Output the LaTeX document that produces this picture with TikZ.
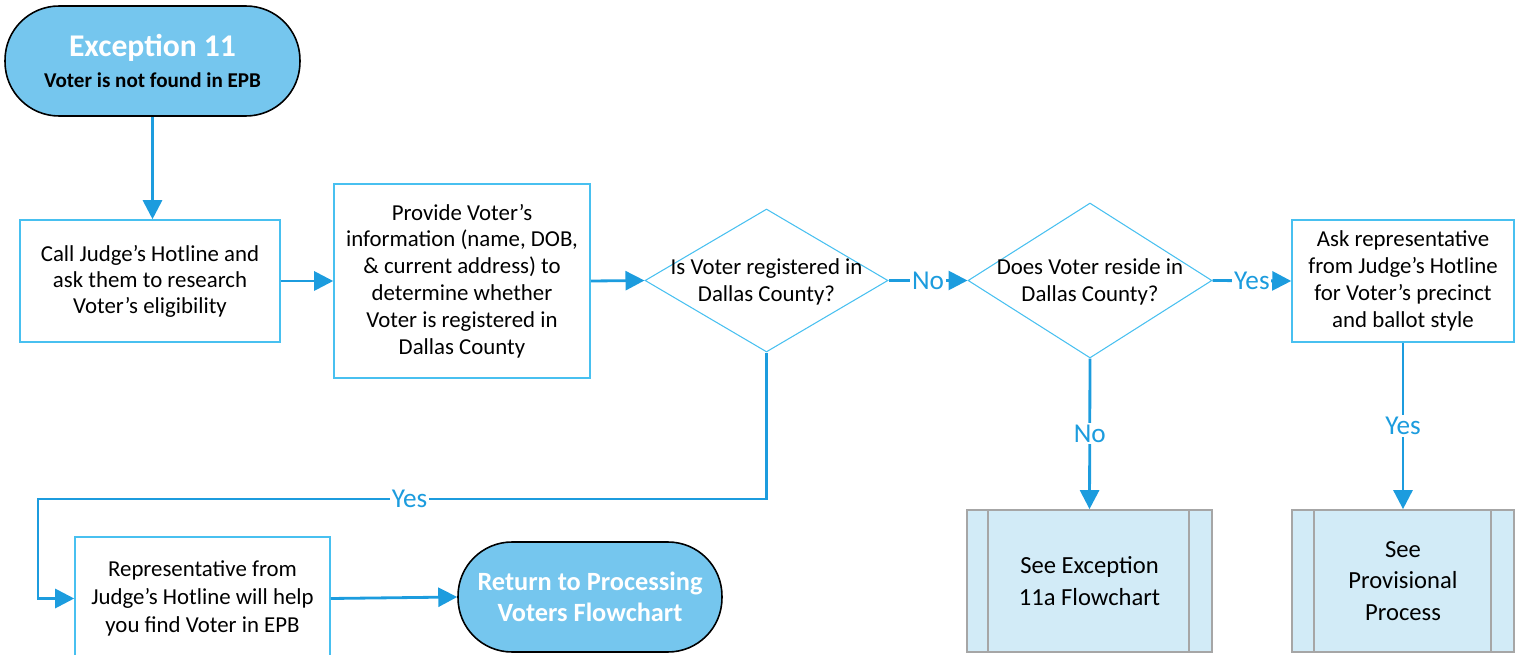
\documentclass[tikz,border=0pt]{standalone}
\usepackage{fontspec}
\setmainfont{Carlito}
\usetikzlibrary{arrows.meta,shapes.geometric}
\definecolor{conn}{RGB}{28,156,222}
\definecolor{bbord}{RGB}{72,192,240}
\definecolor{termfill}{RGB}{117,198,238}
\definecolor{ppfill}{RGB}{210,235,247}
\definecolor{ppbord}{RGB}{166,166,166}
\tikzset{
  procbox/.style={draw=bbord, line width=0.9pt, fill=white, align=center, inner sep=2pt, font=\fontsize{13}{14.8}\selectfont},
  termnode/.style={draw=black, line width=0.9pt, fill=termfill, rounded corners=1.08cm, align=center},
  decision/.style={diamond, draw=bbord, line width=0.6pt, inner sep=0pt},
  dtext/.style={align=center, font=\fontsize{13}{15.8}\selectfont},
  ppbox/.style={draw=ppbord, line width=1pt, fill=ppfill, align=center, font=\fontsize{14}{18}\selectfont},
  link/.style={draw=conn, line width=1.6pt, -{Triangle[length=0.38cm,width=0.38cm]}},
  lbl/.style={fill=white, text=conn, inner sep=1pt, font=\fontsize{15.5}{17}\selectfont}
}
\begin{document}
\begin{tikzpicture}[x=0.02cm,y=-0.02cm]
\useasboundingbox (0,0) rectangle (1522,655);
% nodes
\node[termnode, minimum width=5.9cm, minimum height=2.2cm, font=\fontsize{12}{18}\selectfont] (start) at (152.5,61)
  {{\fontsize{18}{21}\selectfont\bfseries\color{white}Exception 11}\\{\bfseries Voter is not found in EPB}};
\node[procbox, minimum width=5.2cm, minimum height=2.44cm] (b1) at (150,281)
  {Call Judge’s Hotline and\\ask them to research\\Voter’s eligibility};
\node[procbox, minimum width=5.12cm, minimum height=3.88cm, font=\fontsize{13}{15.3}\selectfont] (b2) at (462,281)
  {Provide Voter’s\\information (name, DOB,\\\& current address) to\\determine whether\\Voter is registered in\\Dallas County};
\node[decision, minimum width=4.86cm, minimum height=2.86cm] (d1) at (766.5,280.5) {};
\node[dtext] (d1t) at (766.5,282) {Is Voter registered in\\Dallas County?};
\node[decision, minimum width=4.88cm, minimum height=3.1cm] (d2) at (1090,280.5) {};
\node[dtext] (d2t) at (1090,282) {Does Voter reside in\\Dallas County?};
\node[procbox, minimum width=4.44cm, minimum height=2.44cm, font=\fontsize{13}{15.3}\selectfont] (b3) at (1403,281)
  {Ask representative\\from Judge’s Hotline\\for Voter’s precinct\\and ballot style};
\node[ppbox, minimum width=4.9cm, minimum height=2.84cm] (p1) at (1089.5,581)
  {See Exception\\11a Flowchart};
\draw[ppbord, line width=1pt] ([xshift=0.44cm]p1.north west) -- ([xshift=0.44cm]p1.south west)
  ([xshift=-0.48cm]p1.north east) -- ([xshift=-0.48cm]p1.south east);
\node[ppbox, minimum width=4.44cm, minimum height=2.84cm] (p2) at (1403,581)
  {See\\Provisional\\Process};
\draw[ppbord, line width=1pt] ([xshift=0.46cm]p2.north west) -- ([xshift=0.46cm]p2.south west)
  ([xshift=-0.48cm]p2.north east) -- ([xshift=-0.48cm]p2.south east);
\node[procbox, minimum width=5.1cm, minimum height=2.46cm, font=\fontsize{13}{15.8}\selectfont] (b4) at (202.5,598.5)
  {Representative from\\Judge's Hotline will help\\you find Voter in EPB};
\node[termnode, minimum width=5.28cm, minimum height=2.2cm, font=\fontsize{15}{17.5}\selectfont\bfseries, text=white] (t2) at (590,597)
  {Return to Processing\\Voters Flowchart};
\coordinate (yl) at (38,499);
% connectors
\draw[link] (start.south) -- (start.south |- b1.north);
\draw[link] (b1.east) -- (b2.west);
\draw[link] (b2.east) -- (d1.west);
\draw[link] (d1.east) -- node[lbl] {No} (d2.west);
\draw[link] (d2.east) -- node[lbl] {Yes} (b3.west);
\draw[link] (d2.south) -- node[lbl, pos=0.5] {No} (p1.north);
\draw[link] (b3.south) -- node[lbl, pos=0.5] {Yes} (p2.north);
\draw[link] (d1.south) |- node[lbl, pos=0.745] {Yes} (yl) |- (b4.west);
\draw[link] (b4.east) -- (t2.west);
\end{tikzpicture}
\end{document}
